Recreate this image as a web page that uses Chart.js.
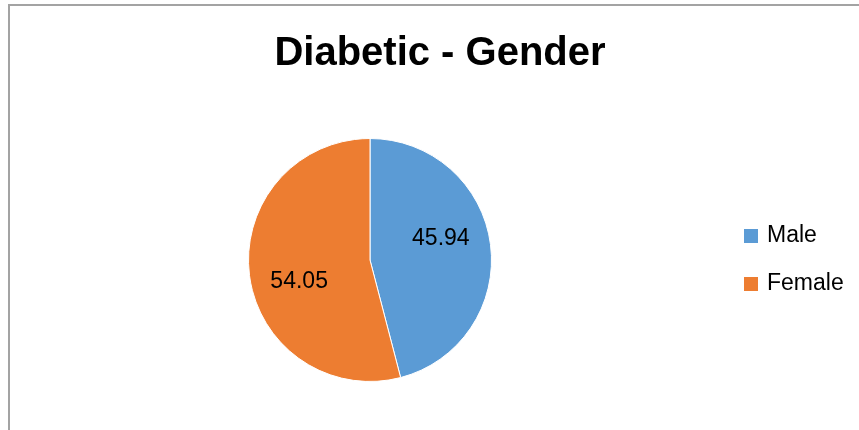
<!DOCTYPE html>
<html>
<head>
<meta charset="utf-8">
<script src="https://cdn.jsdelivr.net/npm/chart.js@4.4.1/dist/chart.umd.min.js"></script>
<style>
  html, body { margin: 0; padding: 0; background: #fff; }
  #wrap { position: relative; width: 859px; height: 430px; overflow: hidden; }
  #frame { position: absolute; left: 8px; top: 4px; width: 900px; height: 500px;
           border-top: 2px solid #a3a3a3; border-left: 2px solid #a3a3a3; }
  canvas { position: absolute; left: 0; top: 0; }
</style>
</head>
<body>
<div id="wrap">
  <div id="frame"></div>
  <canvas id="myChart" width="859" height="430"></canvas>
</div>
<script>
const titleText = 'Diabetic - Gender';
const categories = ['Male', 'Female'];
const values = [45.94, 54.05];
const colors = ['#5B9BD5', '#ED7D31'];

const FONT = "'Liberation Sans', Arial, sans-serif";

// title, slice values and legend, drawn on the chart canvas
const decorations = {
  id: 'decorations',
  afterDraw(chart) {
    const ctx = chart.ctx;
    ctx.save();

    ctx.fillStyle = '#000';
    ctx.textAlign = 'center';
    ctx.textBaseline = 'middle';
    ctx.font = 'bold 40px ' + FONT;
    ctx.fillText(titleText, 440, 54);

    // labels inside the slices
    const meta = chart.getDatasetMeta(0);
    ctx.font = '23px ' + FONT;
    meta.data.forEach((arc, i) => {
      const p = arc.getProps(['x', 'y', 'startAngle', 'endAngle', 'outerRadius'], true);
      const mid = (p.startAngle + p.endAngle) / 2 - 0.17;
      const r = p.outerRadius * 0.61;
      ctx.fillText(String(values[i]), p.x + Math.cos(mid) * r, p.y + Math.sin(mid) * r);
    });

    // legend
    ctx.textAlign = 'left';
    ctx.font = '23px ' + FONT;
    categories.forEach((name, i) => {
      const y = 236 + i * 48;
      ctx.fillStyle = colors[i];
      ctx.fillRect(744, y - 7, 14, 14);
      ctx.fillStyle = '#000';
      ctx.fillText(name, 767, y);
    });
    ctx.restore();
  }
};

new Chart(document.getElementById('myChart').getContext('2d'), {
  type: 'pie',
  data: {
    labels: categories,
    datasets: [{
      data: values,
      backgroundColor: colors,
      borderColor: '#ffffff',
      borderWidth: 1
    }]
  },
  options: {
    responsive: false,
    animation: false,
    events: [],
    layout: { padding: { left: 248, right: 367, top: 138, bottom: 48 } },
    plugins: {
      legend: { display: false },
      title: { display: false },
      tooltip: { enabled: false }
    }
  },
  plugins: [decorations]
});
</script>
</body>
</html>
